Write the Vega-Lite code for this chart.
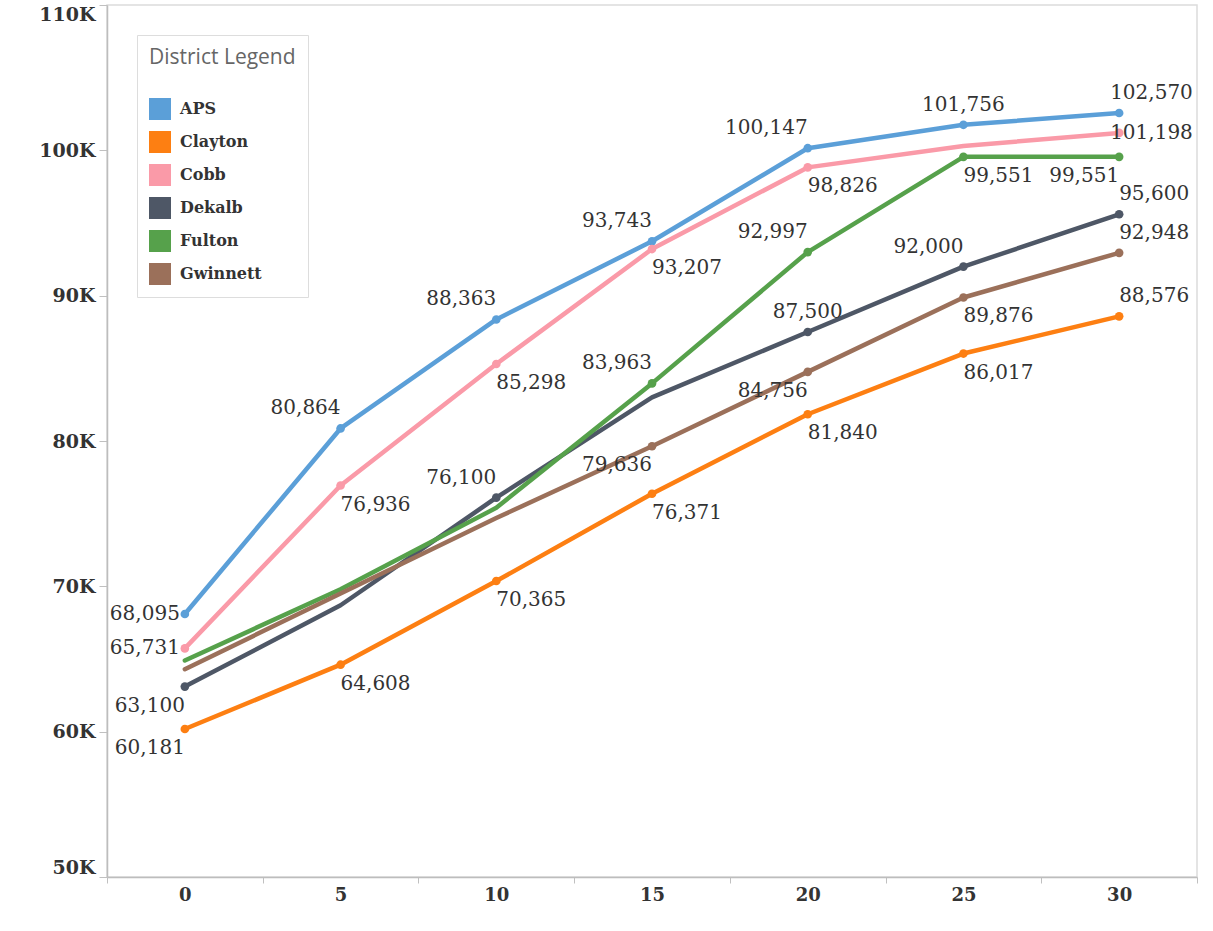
{
  "$schema": "https://vega.github.io/schema/vega-lite/v6.json",
  "width": 1090,
  "height": 872,
  "autosize": {"type": "none"},
  "padding": {"left": 107, "top": 5, "right": 16, "bottom": 54},
  "background": "white",
  "config": {
    "view": {"stroke": "#dcdcdc", "strokeWidth": 1.5},
    "axis": {"grid": false}
  },
  "data": {
    "values": [
      {"district": "APS", "year": 0, "salary": 68095},
      {"district": "APS", "year": 5, "salary": 80864},
      {"district": "APS", "year": 10, "salary": 88363},
      {"district": "APS", "year": 15, "salary": 93743},
      {"district": "APS", "year": 20, "salary": 100147},
      {"district": "APS", "year": 25, "salary": 101756},
      {"district": "APS", "year": 30, "salary": 102570},
      {"district": "Clayton", "year": 0, "salary": 60181},
      {"district": "Clayton", "year": 5, "salary": 64608},
      {"district": "Clayton", "year": 10, "salary": 70365},
      {"district": "Clayton", "year": 15, "salary": 76371},
      {"district": "Clayton", "year": 20, "salary": 81840},
      {"district": "Clayton", "year": 25, "salary": 86017},
      {"district": "Clayton", "year": 30, "salary": 88576},
      {"district": "Cobb", "year": 0, "salary": 65731},
      {"district": "Cobb", "year": 5, "salary": 76936},
      {"district": "Cobb", "year": 10, "salary": 85298},
      {"district": "Cobb", "year": 15, "salary": 93207},
      {"district": "Cobb", "year": 20, "salary": 98826},
      {"district": "Cobb", "year": 25, "salary": 100300},
      {"district": "Cobb", "year": 30, "salary": 101198},
      {"district": "Dekalb", "year": 0, "salary": 63100},
      {"district": "Dekalb", "year": 5, "salary": 68700},
      {"district": "Dekalb", "year": 10, "salary": 76100},
      {"district": "Dekalb", "year": 15, "salary": 83000},
      {"district": "Dekalb", "year": 20, "salary": 87500},
      {"district": "Dekalb", "year": 25, "salary": 92000},
      {"district": "Dekalb", "year": 30, "salary": 95600},
      {"district": "Fulton", "year": 0, "salary": 64900},
      {"district": "Fulton", "year": 5, "salary": 69800},
      {"district": "Fulton", "year": 10, "salary": 75400},
      {"district": "Fulton", "year": 15, "salary": 83963},
      {"district": "Fulton", "year": 20, "salary": 92997},
      {"district": "Fulton", "year": 25, "salary": 99551},
      {"district": "Fulton", "year": 30, "salary": 99551},
      {"district": "Gwinnett", "year": 0, "salary": 64300},
      {"district": "Gwinnett", "year": 5, "salary": 69500},
      {"district": "Gwinnett", "year": 10, "salary": 74700},
      {"district": "Gwinnett", "year": 15, "salary": 79636},
      {"district": "Gwinnett", "year": 20, "salary": 84756},
      {"district": "Gwinnett", "year": 25, "salary": 89876},
      {"district": "Gwinnett", "year": 30, "salary": 92948}
    ]
  },
  "encoding": {
    "x": {
      "field": "year",
      "type": "ordinal",
      "bandPosition": 0.5,
      "scale": {"type": "band", "paddingInner": 0, "paddingOuter": 0, "domain": [0, 5, 10, 15, 20, 25, 30]},
      "axis": {
        "title": null,
        "labelAngle": 0,
        "tickBand": "extent",
        "tickSize": 6,
        "tickColor": "#c0c0c0",
        "domainColor": "#bdbdbd",
        "domainWidth": 1.5,
        "labelPadding": 3,
        "labelFont": "DejaVu Serif",
        "labelFontWeight": "bold",
        "labelFontSize": 18,
        "labelColor": "#333333"
      }
    },
    "y": {
      "field": "salary",
      "type": "quantitative",
      "scale": {"domain": [50000, 110000], "nice": false, "zero": false},
      "axis": {
        "title": null,
        "values": [50000, 60000, 70000, 80000, 90000, 100000, 110000],
        "labelExpr": "format(datum.value / 1000, 'd') + 'K'",
        "labelFlush": true,
        "labelFlushOffset": 0,
        "tickSize": 8,
        "tickColor": "#c0c0c0",
        "domainColor": "#bdbdbd",
        "domainWidth": 1.5,
        "labelPadding": 4,
        "labelFont": "DejaVu Serif",
        "labelFontWeight": "bold",
        "labelFontSize": 19,
        "labelColor": "#333333"
      }
    },
    "color": {
      "field": "district",
      "type": "nominal",
      "scale": {
        "domain": ["APS", "Clayton", "Cobb", "Dekalb", "Fulton", "Gwinnett"],
        "range": ["#5b9fd8", "#fd7f12", "#fa9aa8", "#4e5766", "#56a14b", "#9b705a"]
      },
      "legend": {
        "title": "District Legend",
        "orient": "none",
        "legendX": 30,
        "legendY": 30,
        "padding": 12,
        "fillColor": "white",
        "strokeColor": "#dddddd",
        "titleFont": "Open Sans",
        "titleFontSize": 21,
        "titleFontWeight": "normal",
        "titleColor": "#666666",
        "titlePadding": 30,
        "symbolType": "square",
        "symbolSize": 484,
        "symbolStrokeWidth": 0,
        "symbolOpacity": 1,
        "rowPadding": 11,
        "labelOffset": 9,
        "labelFont": "DejaVu Serif",
        "labelFontSize": 16,
        "labelFontWeight": "bold",
        "labelColor": "#333333"
      }
    }
  },
  "layer": [
    {
      "mark": {"type": "line", "strokeWidth": 4.5, "strokeCap": "round", "strokeJoin": "round"}
    },
    {
      "transform": [{"filter": "indexof(['Cobb25','Dekalb5','Dekalb15','Fulton0','Fulton5','Fulton10','Gwinnett0','Gwinnett5','Gwinnett10'], datum.district + datum.year) < 0"}],
      "mark": {"type": "point", "filled": true, "size": 75, "opacity": 1}
    },
    {
      "transform": [{"filter": "indexof(['APS5','APS10','APS15','APS20','Dekalb10','Dekalb25','Fulton15','Fulton20'], datum.district + datum.year) >= 0"}],
      "mark": {"type": "text", "align": "right", "baseline": "middle", "dx": 0, "dy": -20, "font": "DejaVu Serif", "fontSize": 20, "color": "#333333"},
      "encoding": {"text": {"field": "salary", "type": "quantitative", "format": ",d"}, "color": {"value": "#333333"}}
    },
    {
      "transform": [{"filter": "indexof(['APS25','Dekalb20'], datum.district + datum.year) >= 0"}],
      "mark": {"type": "text", "align": "center", "baseline": "middle", "dx": 0, "dy": -20, "font": "DejaVu Serif", "fontSize": 20},
      "encoding": {"text": {"field": "salary", "type": "quantitative", "format": ",d"}, "color": {"value": "#333333"}}
    },
    {
      "transform": [{"filter": "indexof(['Clayton30','Dekalb30','Gwinnett30'], datum.district + datum.year) >= 0"}],
      "mark": {"type": "text", "align": "left", "baseline": "middle", "dx": 0, "dy": -20, "font": "DejaVu Serif", "fontSize": 20},
      "encoding": {"text": {"field": "salary", "type": "quantitative", "format": ",d"}, "color": {"value": "#333333"}}
    },
    {
      "transform": [{"filter": "datum.district == 'APS' && datum.year == 30"}],
      "mark": {"type": "text", "align": "left", "baseline": "middle", "dx": -9, "dy": -20, "font": "DejaVu Serif", "fontSize": 20},
      "encoding": {"text": {"field": "salary", "type": "quantitative", "format": ",d"}, "color": {"value": "#333333"}}
    },
    {
      "transform": [{"filter": "datum.district == 'Cobb' && datum.year == 30"}],
      "mark": {"type": "text", "align": "left", "baseline": "middle", "dx": -9, "dy": 0, "font": "DejaVu Serif", "fontSize": 20},
      "encoding": {"text": {"field": "salary", "type": "quantitative", "format": ",d"}, "color": {"value": "#333333"}}
    },
    {
      "transform": [{"filter": "indexof(['APS0','Cobb0'], datum.district + datum.year) >= 0"}],
      "mark": {"type": "text", "align": "right", "baseline": "middle", "dx": -5, "dy": 0, "font": "DejaVu Serif", "fontSize": 20},
      "encoding": {"text": {"field": "salary", "type": "quantitative", "format": ",d"}, "color": {"value": "#333333"}}
    },
    {
      "transform": [{"filter": "indexof(['Clayton0','Dekalb0','Fulton30','Gwinnett15','Gwinnett20'], datum.district + datum.year) >= 0"}],
      "mark": {"type": "text", "align": "right", "baseline": "middle", "dx": 0, "dy": 19, "font": "DejaVu Serif", "fontSize": 20},
      "encoding": {"text": {"field": "salary", "type": "quantitative", "format": ",d"}, "color": {"value": "#333333"}}
    },
    {
      "transform": [{"filter": "indexof(['Cobb5','Cobb10','Cobb15','Cobb20','Clayton5','Clayton10','Clayton15','Clayton20','Clayton25','Fulton25','Gwinnett25'], datum.district + datum.year) >= 0"}],
      "mark": {"type": "text", "align": "left", "baseline": "middle", "dx": 0, "dy": 19, "font": "DejaVu Serif", "fontSize": 20},
      "encoding": {"text": {"field": "salary", "type": "quantitative", "format": ",d"}, "color": {"value": "#333333"}}
    }
  ]
}
